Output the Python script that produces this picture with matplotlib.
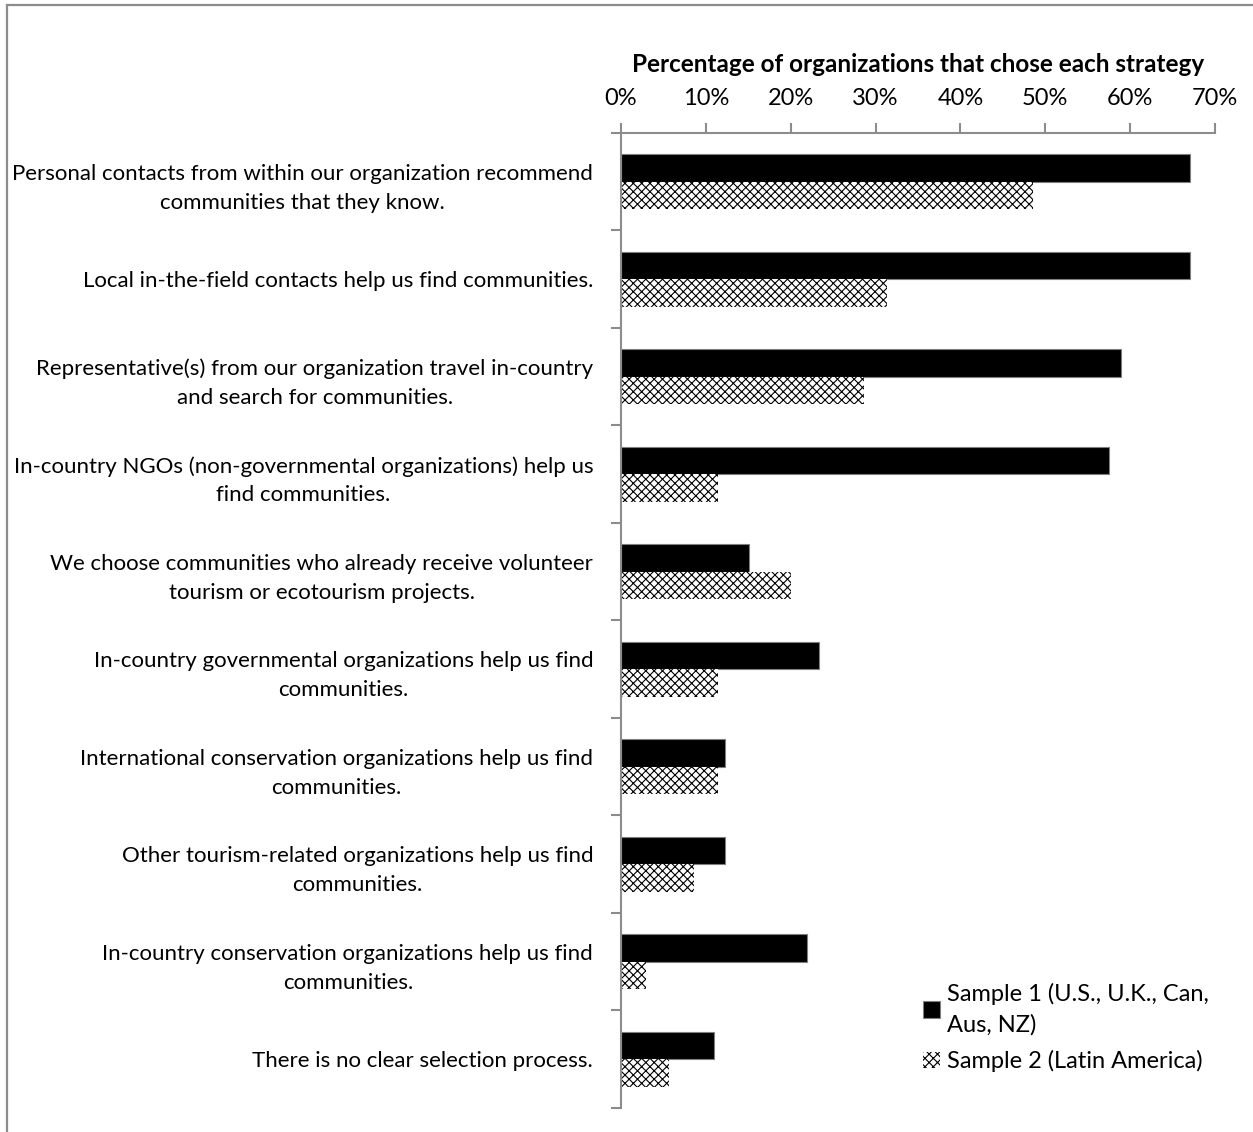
import matplotlib.pyplot as plt
import numpy as np
from matplotlib.patches import Rectangle

plt.rcParams['font.family'] = ['Lato', 'DejaVu Sans']
plt.rcParams['hatch.linewidth'] = 0.8

strategies = [
    "Personal contacts from within our organization recommend\ncommunities that they know.",
    "Local in-the-field contacts help us find communities.",
    "Representative(s) from our organization travel in-country\nand search for communities.",
    "In-country NGOs (non-governmental organizations) help us\nfind communities.",
    "We choose communities who already receive volunteer\ntourism or ecotourism projects.",
    "In-country governmental organizations help us find\ncommunities.",
    "International conservation organizations help us find\ncommunities.",
    "Other tourism-related organizations help us find\ncommunities.",
    "In-country conservation organizations help us find\ncommunities.",
    "There is no clear selection process.",
]
sample1 = [67.1, 67.1, 58.9, 57.5, 15.1, 23.3, 12.3, 12.3, 21.9, 11.0]
sample2 = [48.6, 31.4, 28.6, 11.4, 20.0, 11.4, 11.4, 8.6, 2.9, 5.7]
label1 = "Sample 1 (U.S., U.K., Can,\nAus, NZ)"
label2 = "Sample 2 (Latin America)"

fig = plt.figure(figsize=(12.53, 11.32), dpi=100)
ax = fig.add_axes([621 / 1253, 1 - 1108 / 1132, (1215 - 621) / 1253, (1108 - 133) / 1132])

# outer chart frame
fig.patches.append(Rectangle((7 / 1253, -0.1), 1.2, 1.1 - 5 / 1132, transform=fig.transFigure,
                             fill=False, edgecolor='#8c8c8c', linewidth=1.6))

y = np.arange(len(strategies))
h = 0.28
ax.barh(y - h / 2, sample1, height=h, color='black', edgecolor='#7f7f7f', linewidth=0.8, label=label1)
ax.barh(y + h / 2, sample2, height=h, color='white', edgecolor='black', hatch='xxxx', linewidth=0,
        label=label2)

ax.set_xlim(0, 70)
ax.set_ylim(len(strategies) - 0.5, -0.5)

ax.xaxis.set_ticks_position('top')
ax.xaxis.set_label_position('top')
ax.set_xticks(np.arange(0, 71, 10))
ax.set_xticklabels(['%d%%' % v for v in range(0, 71, 10)], fontsize=17)
ax.tick_params(axis='x', direction='out', length=7, width=1.5, color='#8c8c8c', pad=10)
ax.set_xlabel("Percentage of organizations that chose each strategy", fontsize=17.5, fontweight='bold',
              labelpad=12)

ax.set_yticks(y)
ax.set_yticklabels(strategies, fontsize=16)
for lab in ax.get_yticklabels():
    lab.set_multialignment('center')
    lab.set_linespacing(1.55)
ax.tick_params(axis='y', which='major', length=0, pad=20)
ax.set_yticks(np.arange(-0.5, len(strategies)), minor=True)
ax.tick_params(axis='y', which='minor', direction='out', length=7, width=1.5, color='#8c8c8c')

for side in ['right', 'bottom']:
    ax.spines[side].set_visible(False)
for side in ['left', 'top']:
    ax.spines[side].set_color('#8c8c8c')
    ax.spines[side].set_linewidth(1.5)

leg = ax.legend(loc='lower right', bbox_to_anchor=(1.025, 0.015), frameon=False, fontsize=17,
                handlelength=0.7, handleheight=0.7, handletextpad=0.3, labelspacing=0.6)
for t in leg.get_texts():
    t.set_linespacing(1.55)

fig.savefig('out.png', dpi=100)
